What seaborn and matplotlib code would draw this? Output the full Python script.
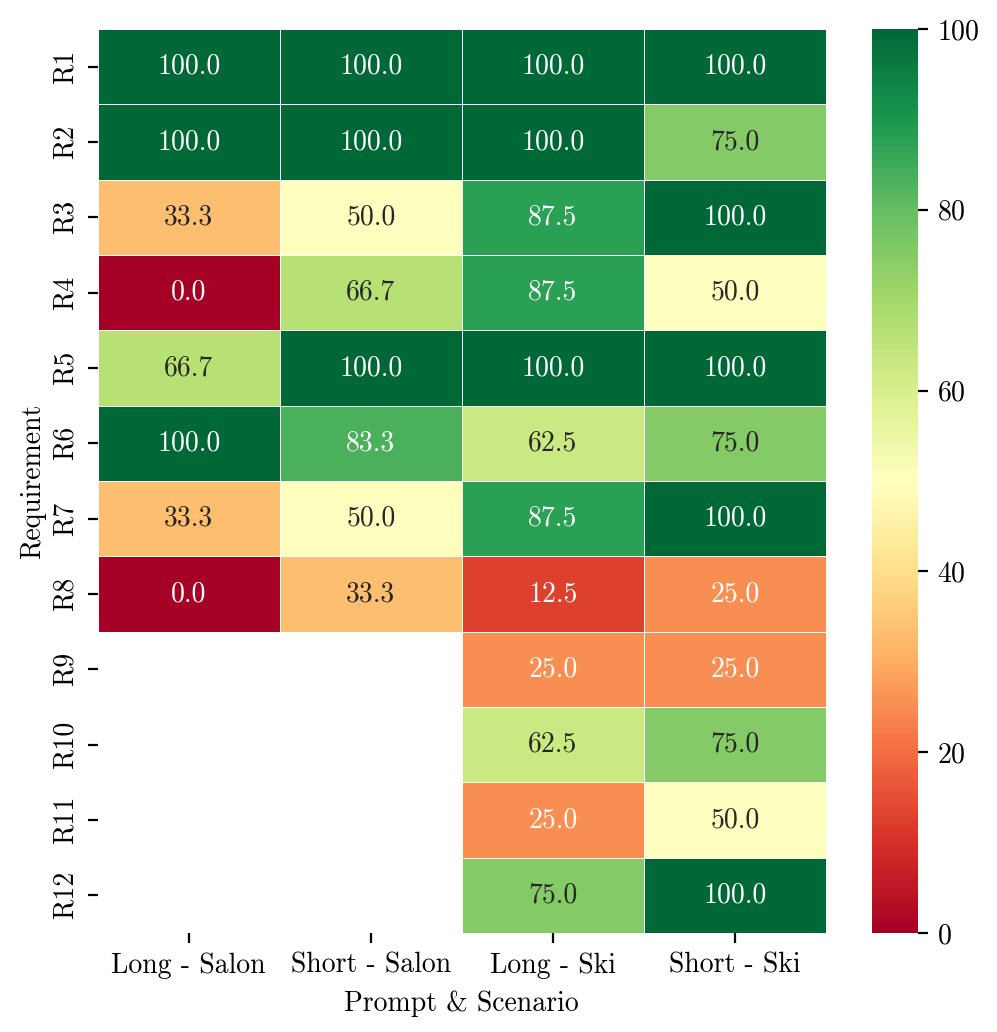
import seaborn as sns
import numpy as np
import pandas as pd
import matplotlib.pyplot as plt

plt.rcParams['font.family'] = ['cmr10', 'DejaVu Serif']
plt.rcParams['mathtext.fontset'] = 'cm'
plt.rcParams['axes.formatter.use_mathtext'] = True

columns = ['Long - Salon', 'Short - Salon', 'Long - Ski', 'Short - Ski']
rows = ['R1', 'R2', 'R3', 'R4', 'R5', 'R6', 'R7', 'R8', 'R9', 'R10', 'R11', 'R12']

long_salon = [100.0, 100.0, 33.3, 0.0, 66.7, 100.0, 33.3, 0.0, np.nan, np.nan, np.nan, np.nan]
short_salon = [100.0, 100.0, 50.0, 66.7, 100.0, 83.3, 50.0, 33.3, np.nan, np.nan, np.nan, np.nan]
long_ski = [100.0, 100.0, 87.5, 87.5, 100.0, 62.5, 87.5, 12.5, 25.0, 62.5, 25.0, 75.0]
short_ski = [100.0, 75.0, 100.0, 50.0, 100.0, 75.0, 100.0, 25.0, 25.0, 75.0, 50.0, 100.0]

df = pd.DataFrame({'Long - Salon': long_salon, 'Short - Salon': short_salon,
                   'Long - Ski': long_ski, 'Short - Ski': short_ski}, index=rows)

fig = plt.figure(figsize=(4.985, 5.16), dpi=200)
ax = fig.add_axes([0.098, 0.0959, 0.7305, 0.876])
cax = fig.add_axes([0.8746, 0.0959, 0.0462, 0.876])

sns.heatmap(df, ax=ax, cbar_ax=cax, cmap='RdYlGn', vmin=0, vmax=100,
            annot=True, fmt='.1f', linewidths=0.3, linecolor='white')
ax.set_xlabel('Prompt & Scenario')
ax.set_ylabel('Requirement', labelpad=2)
ax.set_yticklabels(rows, rotation=90, va='center')
cax.set_yticks([0, 20, 40, 60, 80, 100])

fig.savefig('out.png', dpi=200)
